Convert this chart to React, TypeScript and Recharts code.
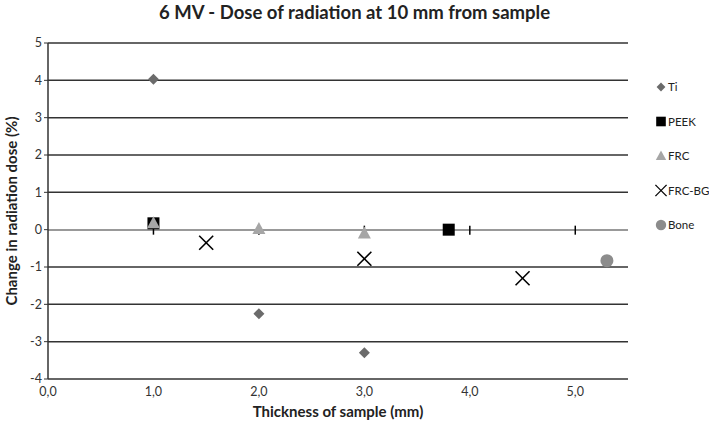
import React from 'react';
import { ScatterChart, Scatter, XAxis, YAxis, CartesianGrid, ReferenceLine, ReferenceDot } from 'recharts';

const ti = [
  { x: 1, y: 4.03 },
  { x: 2, y: -2.25 },
  { x: 3, y: -3.3 },
];
const peek = [
  { x: 1, y: 0.17 },
  { x: 3.8, y: 0 },
];
const frc = [
  { x: 1, y: 0.17 },
  { x: 2, y: 0.02 },
  { x: 3, y: -0.1 },
];
const frcBg = [
  { x: 1.5, y: -0.35 },
  { x: 3, y: -0.78 },
  { x: 4.5, y: -1.3 },
];
const bone = [{ x: 5.3, y: -0.83 }];

const xTicks = [0, 1, 2, 3, 4, 5];
const yTicks = [-4, -3, -2, -1, 0, 1, 2, 3, 4, 5];

const FONT = 'Lato, "Open Sans", sans-serif';

const Diamond = (p: any) => (
  <polygon points={`${p.cx},${p.cy - 5.5} ${p.cx + 5.5},${p.cy} ${p.cx},${p.cy + 5.5} ${p.cx - 5.5},${p.cy}`} fill="#6b6b6b" />
);
const Square = (p: any) => <rect x={p.cx - 6} y={p.cy - 6} width={12} height={12} fill="#000" />;
const Triangle = (p: any) => (
  <polygon points={`${p.cx},${p.cy - 7} ${p.cx + 6.5},${p.cy + 5} ${p.cx - 6.5},${p.cy + 5}`} fill="#a6a6a6" />
);
const Cross = (p: any) => (
  <g stroke="#000" strokeWidth={1.6}>
    <line x1={p.cx - 7} y1={p.cy - 7} x2={p.cx + 7} y2={p.cy + 7} />
    <line x1={p.cx - 7} y1={p.cy + 7} x2={p.cx + 7} y2={p.cy - 7} />
  </g>
);
const Circle = (p: any) => <circle cx={p.cx} cy={p.cy} r={6.5} fill="#8c8c8c" />;
const ZeroTick = (p: any) => <line x1={p.cx} y1={p.cy - 4} x2={p.cx} y2={p.cy + 5} stroke="#000" strokeWidth={1.5} />;

const legendItems = [
  { name: 'Ti', Shape: Diamond },
  { name: 'PEEK', Shape: Square },
  { name: 'FRC', Shape: Triangle },
  { name: 'FRC-BG', Shape: Cross },
  { name: 'Bone', Shape: Circle },
];

const LegendBox = () => (
  <svg width={58} height={160} style={{ position: 'absolute', left: 651, top: 78 }}>
    {legendItems.map((it, i) => {
      const cy = 9 + i * 34.5;
      const S = it.Shape;
      return (
        <g key={it.name}>
          <g transform={`translate(10,${cy}) scale(0.8) translate(-10,${-cy})`}>
            <S cx={10} cy={cy} />
          </g>
          <text x={17} y={cy + 4} fontSize={11.5} fontFamily={FONT} fill="#222">{it.name}</text>
        </g>
      );
    })}
  </svg>
);

const App = () => {
  return (
    <div style={{ position: 'absolute', left: 0, top: 0, width: 709, height: 424, background: '#fff' }}>
      <div style={{ position: 'absolute', left: 0, top: 1, width: 709, textAlign: 'center', fontFamily: FONT, fontWeight: 700, fontSize: 18.5, color: '#222' }}>
        6 MV - Dose of radiation at 10 mm from sample
      </div>
      <ScatterChart width={709} height={424} margin={{ top: 43, right: 81, bottom: 25, left: 18 }}>
        <CartesianGrid horizontal vertical={false} stroke="#333" strokeWidth={1.5} />
        <XAxis
          type="number"
          dataKey="x"
          domain={[0, 5.5]}
          ticks={xTicks}
          interval={0}
          allowDataOverflow
          tickFormatter={(v: number) => v.toFixed(1).replace('.', ',')}
          tick={{ fontSize: 12.5, fontFamily: FONT, fill: '#333' }}
          axisLine={false}
          tickLine={false}
          tickMargin={2}
          height={20}
          label={{ value: 'Thickness of sample (mm)', position: 'insideBottom', offset: -18, fontSize: 15, fontWeight: 700, fontFamily: FONT, fill: '#222' }}
        />
        <YAxis
          type="number"
          dataKey="y"
          domain={[-4, 5]}
          ticks={yTicks}
          interval={0}
          tick={{ fontSize: 12.5, fontFamily: FONT, fill: '#333' }}
          axisLine={{ stroke: '#333', strokeWidth: 1.5 }}
          tickLine={{ stroke: '#333' }}
          tickSize={4}
          width={30}
          label={{ value: 'Change in radiation dose (%)', angle: -90, position: 'center', dx: -21, fontSize: 15, fontWeight: 700, fontFamily: FONT, fill: '#222' }}
        />
        <ReferenceLine y={0} stroke="#999" strokeWidth={1.5} />
        {xTicks.slice(1).map((t) => (
          <ReferenceDot key={t} x={t} y={0} shape={ZeroTick} />
        ))}
        <Scatter name="Ti" data={ti} shape={Diamond} isAnimationActive={false} />
        <Scatter name="FRC-BG" data={frcBg} shape={Cross} isAnimationActive={false} />
        <Scatter name="PEEK" data={peek} shape={Square} isAnimationActive={false} />
        <Scatter name="FRC" data={frc} shape={Triangle} isAnimationActive={false} />
        <Scatter name="Bone" data={bone} shape={Circle} isAnimationActive={false} />
      </ScatterChart>
      <LegendBox />
    </div>
  );
};

export default App;
